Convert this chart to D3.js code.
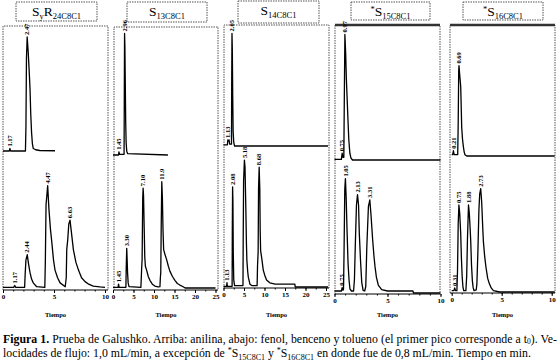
<!DOCTYPE html>
<html><head><meta charset="utf-8">
<script src="https://d3js.org/d3.v7.min.js"></script>
<style>body{margin:0;background:#fff} svg{display:block}</style>
</head><body>
<script>
// column titles: [text, kind] kind 0 normal, 1 subscript, 2 superscript
const titles = [
  [["S",0],["y",1],["R",0],["24C8C1",1]],
  [["S",0],["13C8C1",1]],
  [["S",0],["14C8C1",1]],
  [["*",2],["S",0],["15C8C1",1]],
  [["*",2],["S",0],["16C8C1",1]]
];

// x axis ticks per column (min)
const ticks1 = [0,5,10];
const ticks2 = [0,5,10,15,20,25];
const ticks3 = [0,5,10,15,20,25];
const ticks4 = [0,5,10];
const ticks5 = [0,5,10];

// chromatograms [time (min), signal (% of panel height)] - top: anilina, bottom: fenol, benceno, tolueno
const p1Top = [[0,0],[0.62,0],[0.68,2],[0.75,0],[2.2,0],[2.25,20],[2.3,75],[2.37,92],[2.47,80],[2.57,64],[2.65,50],[2.72,30],[2.8,15],[2.88,6],[2.97,2],[3.2,1],[3.6,0.4],[5.1,0.2]];
const p1Bot = [[0,0.5],[1.05,0.5],[1.15,2],[1.25,0.5],[2.12,0.5],[2.18,12],[2.25,22],[2.38,26],[2.5,19],[2.65,12],[2.8,7],[2.97,4],[3.3,1],[4.1,0.5],[4.15,20],[4.22,65],[4.38,80],[4.5,62],[4.65,46],[4.77,37],[4.95,22],[5.1,14],[5.35,8],[5.6,4],[6.1,1],[6.2,8],[6.25,30],[6.35,38],[6.45,50],[6.57,53],[6.7,44],[6.9,30],[7.15,20],[7.4,14],[7.7,8],[8.05,5],[8.4,3],[8.85,1.5],[9.5,0.8],[10,0.5]];
const p2Top = [[0,0],[1.35,0],[1.45,2.5],[1.6,0.5],[2.7,0.5],[2.75,40],[2.82,95],[2.9,85],[3.0,55],[3.1,25],[3.2,10],[3.35,3],[3.6,1],[13.4,0]];
const p2Bot = [[0,0.5],[1.25,0.5],[1.35,3],[1.5,0.5],[3.15,0.5],[3.22,15],[3.35,31],[3.45,22],[3.55,12],[3.7,4],[3.9,1],[6.8,0.5],[6.9,8],[7.0,16],[7.1,22],[7.25,70],[7.35,78],[7.45,72],[7.6,48],[7.75,24],[7.9,17],[8.2,14],[8.6,9],[9.0,6],[9.6,3],[10.2,1.5],[11.0,0.8],[11.45,1],[11.55,8],[11.65,12],[11.75,45],[11.9,83],[12.05,70],[12.2,45],[12.35,30],[12.7,26],[13.1,22],[13.5,17],[13.9,13],[14.5,9],[15.1,6],[15.7,3.5],[16.3,2.3],[17.0,1.2],[17.6,0],[25,0]];
const p3Top = [[0,1],[0.95,1],[1.05,5],[1.2,4],[1.35,5],[1.5,1.5],[1.95,1.5],[2.0,50],[2.07,93],[2.15,80],[2.25,40],[2.35,12],[2.5,3],[2.7,0],[25.5,0]];
const p3Bot = [[0,0.5],[0.75,0.5],[0.85,3],[0.95,0.5],[2.1,0.5],[2.15,40],[2.22,71],[2.3,60],[2.38,25],[2.5,5],[2.7,1],[4.75,1],[4.8,30],[4.9,75],[5.1,90],[5.25,85],[5.45,55],[5.6,30],[5.7,19],[5.9,11],[6.05,7],[6.45,2],[6.9,1],[8.2,1],[8.3,15],[8.45,25],[8.55,70],[8.7,85],[8.85,70],[8.95,40],[9.05,26],[9.3,21],[9.7,12],[10.1,8],[10.5,5],[11.3,3],[12.6,2],[17.4,2],[17.5,0],[25.5,0]];
const p4Top = [[0,0.5],[0.65,0.5],[0.72,5],[0.8,2],[0.88,2],[0.92,40],[0.98,93],[1.05,80],[1.12,60],[1.2,44],[1.28,28],[1.35,15],[1.45,5],[1.55,1.5],[1.7,0],[10,0]];
const p4Bot = [[0,1.5],[0.65,1.5],[0.72,4],[0.8,2],[0.85,3],[0.9,30],[0.97,78],[1.03,86],[1.1,72],[1.18,48],[1.28,22],[1.38,9],[1.46,3],[1.6,1.5],[1.8,1.5],[1.88,10],[1.97,38],[2.07,66],[2.17,74],[2.27,66],[2.34,45],[2.45,25],[2.57,8],[2.7,2],[2.85,1.5],[2.95,5],[3.05,35],[3.2,65],[3.33,70],[3.45,58],[3.6,40],[3.72,28],[3.82,20],[3.95,12],[4.13,6],[4.45,2.5],[5,1.5],[7.4,1.5],[7.45,0],[10,0]];
const p5Top = [[0,1],[0.1,1],[0.17,4],[0.25,1],[0.6,1],[0.65,25],[0.7,65],[0.73,69],[0.8,62],[0.9,53],[0.95,38],[1.0,22],[1.08,13],[1.17,7],[1.25,3],[1.33,1],[1.5,0],[10.3,0]];
const p5Bot = [[0,1],[0.22,1],[0.3,3],[0.38,1],[0.52,1],[0.58,15],[0.65,50],[0.72,64],[0.8,58],[0.9,43],[0.97,25],[1.05,11],[1.12,4],[1.2,1],[1.42,1],[1.5,12],[1.58,40],[1.68,64],[1.76,58],[1.84,47],[1.9,38],[1.98,20],[2.07,8],[2.15,3],[2.23,1],[2.45,1.5],[2.52,6],[2.62,30],[2.72,60],[2.8,72],[2.9,76],[3.0,66],[3.1,48],[3.17,37],[3.3,26],[3.43,18],[3.6,10],[3.77,6],[3.95,3],[4.17,1],[4.8,0],[10.3,0]];

// peak labels [time, text]
const p1TopLbl = [[0.68,"1.17"],[2.37,"2.47"]];
const p1BotLbl = [[1.15,"1.17"],[2.38,"2.44"],[4.38,"4.47"],[6.57,"6.63"]];
const p2TopLbl = [[1.45,"1.45"],[2.82,"2.96"]];
const p2BotLbl = [[1.35,"1.45"],[3.35,"3.30"],[7.35,"7.10"],[11.9,"11.9"]];
const p3TopLbl = [[1.1,"1.13"],[2.07,"2.05"]];
const p3BotLbl = [[0.85,"1.13"],[2.22,"2.08"],[5.1,"5.18"],[8.7,"8.68"]];
const p4TopLbl = [[0.72,"0.75"],[0.98,"0.97"]];
const p4BotLbl = [[0.72,"0.75"],[1.03,"1.05"],[2.17,"2.13"],[3.33,"3.31"]];
const p5TopLbl = [[0.17,"0.21"],[0.73,"0.69"]];
const p5BotLbl = [[0.3,"0.31"],[0.72,"0.75"],[1.68,"1.88"],[2.9,"2.73"]];

const W = 560, H = 363;
const svg = d3.select("body").append("svg").attr("width", W).attr("height", H)
  .style("font-family", "'Liberation Serif', 'Times New Roman', serif");

// layout of the five columns (pixels)
const layout = [
  {xr:[3,105],   dmax:10, minor:1,   box:[3,108,26,290],   thick:false, top:[151,27], bot:[288,160], tb:[16,97,2,21],   ticks:ticks1, tr:p1Top, br:p1Bot, tl:p1TopLbl, bl:p1BotLbl},
  {xr:[113,215.5],dmax:25, minor:2.5, box:[114,218,27,290], thick:false, top:[155,27], bot:[288,160], tb:[127,207,2,22], ticks:ticks2, tr:p2Top, br:p2Bot, tl:p2TopLbl, bl:p2BotLbl},
  {xr:[223.5,326],dmax:25, minor:2.5, box:[224,329,25,288], thick:false, top:[146,25], bot:[287,146], tb:[238,319,1,23], ticks:ticks3, tr:p3Top, br:p3Bot, tl:p3TopLbl, bl:p3BotLbl},
  {xr:[334.5,440.5],dmax:10, minor:1, box:[335,440,25,294], thick:true, top:[160,25], bot:[293,160], tb:[351,430,2,20], ticks:ticks4, tr:p4Top, br:p4Bot, tl:p4TopLbl, bl:p4BotLbl},
  {xr:[451.7,551.7],dmax:10, minor:1, box:[450,555,25,293], thick:true, top:[156,25], bot:[292,156], tb:[463,543,2,20], ticks:ticks5, tr:p5Top, br:p5Bot, tl:p5TopLbl, bl:p5BotLbl}
];

function addSegs(txt, segs, big, small) {
  let off = 0;
  segs.forEach(s => {
    const want = s[1] === 1 ? 3 : (s[1] === 2 ? -4 : 0);
    txt.append("tspan").attr("dy", want - off)
      .attr("font-size", s[1] ? small : big).text(s[0]);
    off = want;
  });
}

function drawTrace(g, data, lbls, x, y) {
  g.append("path").datum(data)
    .attr("fill", "none").attr("stroke", "#000").attr("stroke-width", 1.3)
    .attr("stroke-linejoin", "round")
    .attr("d", d3.line().x(d => x(d[0])).y(d => y(d[1])));
  lbls.forEach(l => {
    const near = data.filter(d => Math.abs(d[0] - l[0]) <= 0.15);
    const h = d3.max(near, d => d[1]) || 0;
    g.append("text")
      .attr("transform", `translate(${x(l[0])},${y(h) - 2}) rotate(-90)`)
      .attr("dy", "0.33em").attr("font-size", 6.5).attr("font-weight", "bold")
      .text(l[1]);
  });
}

layout.forEach((p, i) => {
  const g = svg.append("g");
  const [bl, br, bt, bb] = p.box;
  // frame (dotted gray like the scanned figure)
  g.append("path")
    .attr("d", `M${bl},${bb}V${bt}H${br}V${bb}`)
    .attr("fill", "none").attr("stroke", "#555").attr("stroke-width", 1)
    .attr("stroke-dasharray", "1.5,1");
  if (p.thick) {
    g.append("line").attr("x1", bl).attr("x2", br).attr("y1", bt).attr("y2", bt)
      .attr("stroke", "#333").attr("stroke-width", 2.5);
  }
  // title box
  const [tx0, tx1, ty0, ty1] = p.tb;
  g.append("rect").attr("x", tx0).attr("y", ty0).attr("width", tx1 - tx0).attr("height", ty1 - ty0)
    .attr("fill", "#fff").attr("stroke", "#555").attr("stroke-dasharray", "1.5,1");
  const tt = g.append("text").attr("x", (tx0 + tx1) / 2).attr("y", ty0 + 14)
    .attr("text-anchor", "middle");
  addSegs(tt, titles[i], 13.5, 8.5);

  const x = d3.scaleLinear().domain([0, p.dmax]).range(p.xr);
  const yT = d3.scaleLinear().domain([0, 100]).range(p.top);
  const yB = d3.scaleLinear().domain([0, 100]).range(p.bot);
  drawTrace(g, p.tr, p.tl, x, yT);
  drawTrace(g, p.br, p.bl, x, yB);

  // x axis
  const ax = g.append("g").attr("transform", `translate(0,${bb})`)
    .call(d3.axisBottom(x).tickValues(p.ticks).tickSize(3).tickSizeOuter(0).tickPadding(1).tickFormat(d3.format("d")));
  ax.select(".domain").attr("d", `M${bl},0H${br}`).attr("stroke", "#000");
  ax.selectAll("text").attr("font-size", 7).attr("font-weight", "bold")
    .attr("font-family", "'Liberation Serif', serif");
  const minors = d3.range(0, p.dmax + 0.01, p.minor);
  g.append("g").attr("transform", `translate(0,${bb})`)
    .call(d3.axisBottom(x).tickValues(minors).tickSize(1.5).tickFormat(""))
    .select(".domain").remove();
  g.append("text").attr("x", (bl + br) / 2).attr("y", 317).attr("text-anchor", "middle")
    .attr("font-size", 6.5).attr("font-weight", "bold").text("Tiempo");
});

// caption
const cap1 = svg.append("text").attr("x", 3).attr("y", 342.5).attr("font-size", 11.8)
  .attr("textLength", 554).attr("lengthAdjust", "spacing");
cap1.append("tspan").attr("font-weight", "bold").text("Figura 1.");
cap1.append("tspan").text(" Prueba de Galushko.  Arriba: anilina, abajo: fenol, benceno y tolueno (el primer pico corresponde a t");
cap1.append("tspan").attr("font-size", 7.5).attr("dy", 1.5).text("0");
cap1.append("tspan").attr("dy", -1.5).text("). Ve-");

const cap2 = svg.append("text").attr("x", 3).attr("y", 356.5).attr("font-size", 11.8);
addSegs(cap2, [["locidades de flujo: 1,0 mL/min, a excepción de ",0],["*",2],["S",0],["15C8C1",1],[" y ",0],["*",2],["S",0],["16C8C1",1],[" en donde fue de 0,8 mL/min. Tiempo en min.",0]], 11.8, 8);
</script>
</body></html>
